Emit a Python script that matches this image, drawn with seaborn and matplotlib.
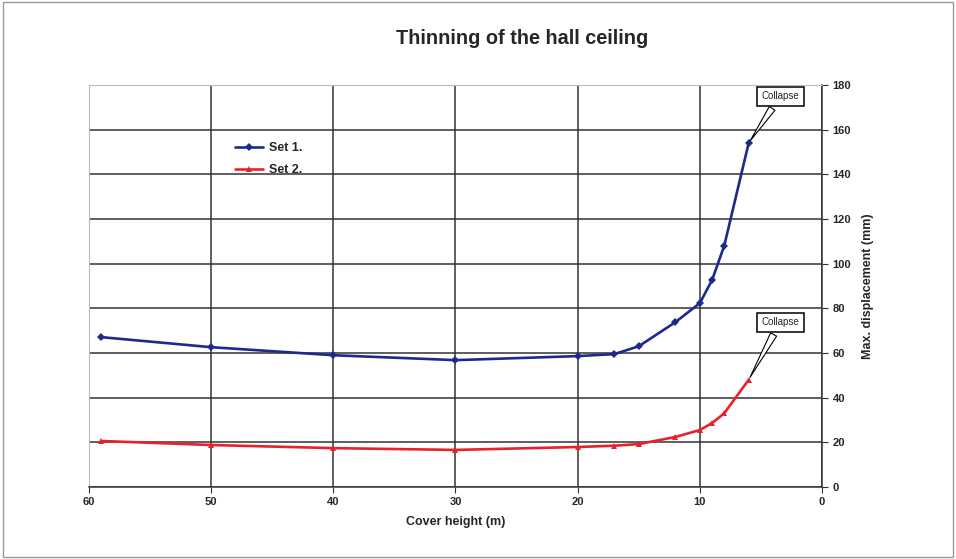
import numpy as np
import pandas as pd
import matplotlib
matplotlib.use('Agg')
import matplotlib.pyplot as plt
import seaborn as sns

# cover height (m) and max. displacement (mm)
height = [59, 50, 40, 30, 20, 17, 15, 12, 10, 9, 8, 6]
set1 = [67.1, 62.6, 59.0, 56.8, 58.6, 59.5, 63.0, 73.8, 82.3, 92.6, 108.0, 154.0]
set2 = [20.6, 18.8, 17.4, 16.6, 17.9, 18.5, 19.2, 22.4, 25.5, 28.6, 33.0, 48.0]
x_ticks = [60, 50, 40, 30, 20, 10, 0]
y_ticks = [0, 20, 40, 60, 80, 100, 120, 140, 160, 180]

df = pd.DataFrame({
    "height": height * 2,
    "disp": set1 + set2,
    "series": ["Set 1."] * len(height) + ["Set 2."] * len(height),
})

sns.set_style("white")
plt.rcParams['font.family'] = ['Liberation Sans', 'DejaVu Sans']

fig = plt.figure(figsize=(9.56, 5.59), dpi=100)
ax = fig.add_axes([0.0931, 0.1288, 0.7667, 0.7192])

colors = {"Set 1.": "#1c2a8c", "Set 2.": "#e8222c"}
sns.lineplot(data=df, x="height", y="disp", hue="series", style="series",
             palette=colors, markers={"Set 1.": "D", "Set 2.": "^"},
             dashes=False, markersize=4, markeredgewidth=0,
             linewidth=1.9, ax=ax)

ax.set_xlim(60, 0)
ax.set_ylim(0, 180)
ax.set_xticks(x_ticks)
ax.set_yticks(y_ticks)
ax.yaxis.tick_right()
ax.yaxis.set_label_position("right")
ax.grid(True, color="#333333", linewidth=1.1)
ax.tick_params(axis="both", labelsize=8, length=4, direction="out",
               color="#333333", right=True, bottom=True, left=False)
for lab in ax.get_xticklabels() + ax.get_yticklabels():
    lab.set_fontweight("bold")
for side in ["left", "top"]:
    ax.spines[side].set_color("#bbbbbb")
    ax.spines[side].set_linewidth(0.8)
for side in ["right", "bottom"]:
    ax.spines[side].set_color("#333333")
    ax.spines[side].set_linewidth(1.1)

ax.set_xlabel("Cover height (m)", fontsize=9, fontweight="bold", labelpad=6)
ax.set_ylabel("Max. displacement (mm)", fontsize=9, fontweight="bold", labelpad=8)
fig.suptitle("Thinning of the hall ceiling", x=0.546, y=0.948,
             fontsize=14.3, fontweight="bold")

leg = ax.legend(loc="upper left", bbox_to_anchor=(0.184, 0.885), frameon=False,
                fontsize=9, handlelength=2.2, handletextpad=0.5, labelspacing=0.8)
for t in leg.get_texts():
    t.set_fontweight("bold")

box = dict(boxstyle="square,pad=0.45", fc="white", ec="black", lw=1.1)
arrow = dict(arrowstyle="wedge,tail_width=0.7", fc="white", ec="black", lw=0.8)
ax.annotate("Collapse", xy=(height[-1], set1[-1]), xytext=(3.4, 175),
            fontsize=7, bbox=box, arrowprops=arrow, ha="center", va="center")
ax.annotate("Collapse", xy=(height[-1], set2[-1]), xytext=(3.4, 73.8),
            fontsize=7, bbox=box, arrowprops=arrow, ha="center", va="center")

fig.patches.append(plt.Rectangle((0.003, 0.003), 0.994, 0.994, transform=fig.transFigure,
                                 fill=False, ec="#999999", lw=1))

fig.savefig("out.png", dpi=100)
